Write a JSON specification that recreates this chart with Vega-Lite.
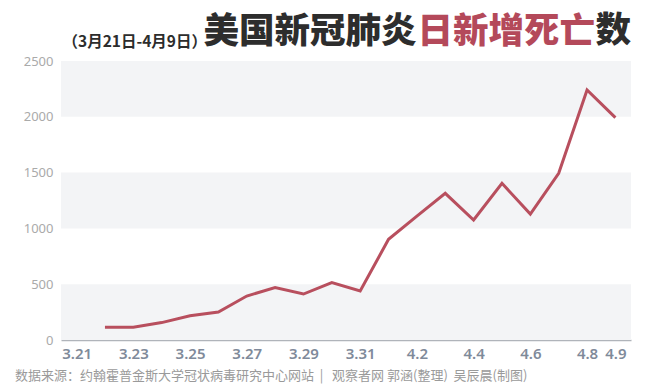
{
  "$schema": "https://vega.github.io/schema/vega-lite/v6.json",
  "width": 570,
  "height": 279,
  "autosize": {"type": "none"},
  "padding": {"left": 61, "top": 61, "right": 19, "bottom": 50},
  "background": "white",
  "config": {"view": {"stroke": null}},
  "title": {
    "text": "数据来源：约翰霍普金斯大学冠状病毒研究中心网站\u00a0\u00a0|\u00a0\u00a0\u00a0观察者网 郭涵(整理)\u00a0\u00a0吴辰晨(制图)",
    "orient": "bottom",
    "anchor": "start",
    "frame": "group",
    "font": "Noto Sans CJK SC",
    "fontSize": 13,
    "fontWeight": "normal",
    "color": "#9a9a9a",
    "baseline": "alphabetic",
    "offset": 0,
    "dx": -46,
    "dy": 19
  },
  "datasets": {
    "bands": [{"v": 0, "v2": 500}, {"v": 1000, "v2": 1500}, {"v": 2000, "v2": 2500}],
    "series": [
      {"date": "3.21", "v": null},
      {"date": "3.22", "v": 115},
      {"date": "3.23", "v": 115},
      {"date": "3.24", "v": 156},
      {"date": "3.25", "v": 218},
      {"date": "3.26", "v": 251},
      {"date": "3.27", "v": 394},
      {"date": "3.28", "v": 469},
      {"date": "3.29", "v": 412},
      {"date": "3.30", "v": 514},
      {"date": "3.31", "v": 439},
      {"date": "4.1", "v": 902},
      {"date": "4.2", "v": 1110},
      {"date": "4.3", "v": 1314},
      {"date": "4.4", "v": 1075},
      {"date": "4.5", "v": 1404},
      {"date": "4.6", "v": 1129},
      {"date": "4.7", "v": 1494},
      {"date": "4.8", "v": 2240},
      {"date": "4.9", "v": 1992}
    ]
  },
  "resolve": {"axis": {"y": "independent"}},
  "layer": [
    {
      "data": {"name": "bands"},
      "mark": {"type": "rect", "color": "#f3f4f6"},
      "encoding": {
        "y": {
          "field": "v",
          "type": "quantitative",
          "scale": {"domain": [0, 2500]},
          "axis": {
            "orient": "right",
            "labels": false,
            "grid": false,
            "ticks": false,
            "domain": false,
            "title": "日新增死亡",
            "titleAngle": 0,
            "titleAlign": "left",
            "titleBaseline": "alphabetic",
            "titleX": -214,
            "titleY": -19,
            "titleFont": "Noto Sans CJK SC",
            "titleFontSize": 35.5,
            "titleFontWeight": 900,
            "titleColor": "#b4495a"
          }
        },
        "y2": {"field": "v2"}
      }
    },
    {
      "data": {"name": "series"},
      "mark": {"type": "line", "strokeWidth": 3},
      "encoding": {
        "x": {
          "field": "date",
          "type": "ordinal",
          "sort": null,
          "scale": {
            "type": "point",
            "padding": 0.55,
            "domain": ["3.21","3.22","3.23","3.24","3.25","3.26","3.27","3.28","3.29","3.30","3.31","4.1","4.2","4.3","4.4","4.5","4.6","4.7","4.8","4.9"]
          },
          "axis": {
            "values": ["3.21","3.23","3.25","3.27","3.29","3.31","4.2","4.4","4.6","4.8","4.9"],
            "labelAngle": 0,
            "labelOverlap": false,
            "ticks": false,
            "grid": false,
            "domainColor": "#b0b4ba",
            "domainWidth": 1.5,
            "labelFont": "Noto Sans",
            "labelFontSize": 15,
            "labelFontWeight": 600,
            "labelColor": "#7f8a9a",
            "labelPadding": 6,
            "title": "美国新冠肺炎",
            "titleFont": "Noto Sans CJK SC",
            "titleFontSize": 35.5,
            "titleFontWeight": 900,
            "titleColor": "#2d2d2d",
            "titleAlign": "left",
            "titleAnchor": "start",
            "titleBaseline": "alphabetic",
            "titleX": 142,
            "titleY": -298
          }
        },
        "y": {
          "field": "v",
          "type": "quantitative",
          "scale": {"domain": [0, 2500]},
          "axis": {
            "orient": "left",
            "values": [0, 500, 1000, 1500, 2000, 2500],
            "format": "d",
            "grid": false,
            "ticks": false,
            "domain": false,
            "labelFont": "Noto Sans",
            "labelFontSize": 13,
            "labelColor": "#aaaaaa",
            "labelPadding": 8,
            "title": "（3月21日-4月9日）",
            "titleAngle": 0,
            "titleAlign": "left",
            "titleBaseline": "alphabetic",
            "titleX": 1,
            "titleY": -15,
            "titleFont": "Noto Sans CJK SC",
            "titleFontSize": 15.5,
            "titleFontWeight": "bold",
            "titleColor": "#2d2d2d"
          }
        },
        "color": {
          "datum": "数",
          "scale": {"range": ["#b84f5e"]},
          "legend": {
            "orient": "none",
            "legendX": 499,
            "legendY": -48,
            "title": null,
            "padding": 0,
            "offset": 0,
            "symbolSize": 0,
            "symbolOpacity": 0,
            "symbolStrokeWidth": 0,
            "labelOffset": 0,
            "labelFont": "Noto Sans CJK SC",
            "labelFontSize": 35.5,
            "labelFontWeight": 900,
            "labelColor": "#2d2d2d",
            "labelBaseline": "middle"
          }
        }
      }
    }
  ]
}
